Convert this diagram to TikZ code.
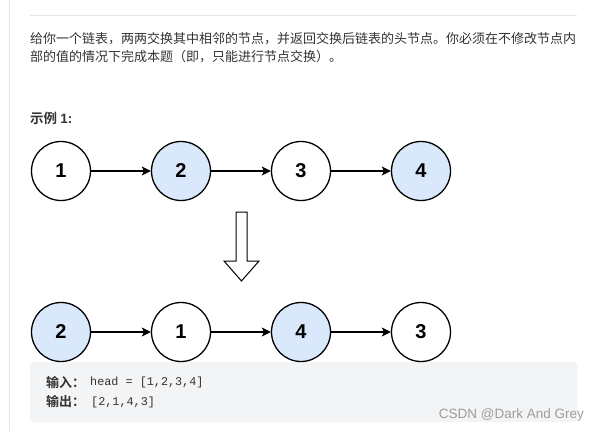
\documentclass[tikz,border=0pt]{standalone}
\usepackage{fontspec}
\setmainfont{Liberation Sans}
\setmonofont{Liberation Mono}
\newfontfamily\cjk{Noto Sans CJK SC}[BoldFont={Noto Sans CJK SC Bold}]
\usetikzlibrary{arrows.meta}
\definecolor{txt}{HTML}{333333}
\definecolor{nodeblue}{HTML}{DAE8FC}
\definecolor{codebg}{HTML}{F3F4F5}
\definecolor{rulegray}{HTML}{E6E6E6}
\definecolor{wmgray}{HTML}{9C9C9C}
\begin{document}
\begin{tikzpicture}[x=1pt,y=-1pt,
  listnode/.style={circle,draw=black,line width=1.3pt,minimum size=59pt,inner sep=0pt,fill=white,
    font=\fontsize{20}{24}\selectfont\bfseries},
  bluenode/.style={listnode,fill=nodeblue},
  link/.style={line width=1.3pt,-{Stealth[length=9pt,width=9pt,inset=2pt]}},
  para/.style={anchor=west,inner sep=0pt,text=txt,font=\cjk\fontsize{13}{16}\selectfont},
  bpara/.style={anchor=west,inner sep=0pt,text=txt,font=\cjk\bfseries\fontsize{13.5}{16}\selectfont},
  code/.style={anchor=west,inner sep=0pt,text=txt,font=\ttfamily\fontsize{11.8}{14}\selectfont}]
\useasboundingbox (0,0) rectangle (599,431);
\fill[white] (0,0) rectangle (599,431);
% page decorations
\draw[rulegray,line width=1pt] (9.5,0) -- (9.5,431);
\draw[rulegray,line width=1.2pt] (30,15.5) -- (577,15.5);
% description
\node[para] (l1) at (30,39) {给你一个链表，两两交换其中相邻的节点，并返回交换后链表的头节点。你必须在不修改节点内};
\node[para] (l2) at (30,57) {部的值的情况下完成本题（即，只能进行节点交换）。};
\node[bpara] (ex) at (30,118) {示例 {\rmfamily\bfseries 1:}};
% code box
\fill[codebg,rounded corners=3pt] (30,362) rectangle (577,422);
% top list
\node[listnode] (a1) at (61,171) {1};
\node[bluenode] (a2) at (181,171) {2};
\node[listnode] (a3) at (301,171) {3};
\node[bluenode] (a4) at (421,171) {4};
\draw[link] (a1) -- (a2);
\draw[link] (a2) -- (a3);
\draw[link] (a3) -- (a4);
% block arrow
\draw[line width=1pt,fill=white,line join=miter]
  (236,212) -- (247,212) -- (247,261) -- (259,261) -- (241.5,281) -- (224,261) -- (236,261) -- cycle;
% bottom list
\node[bluenode] (b1) at (61,332) {2};
\node[listnode] (b2) at (181,332) {1};
\node[bluenode] (b3) at (301,332) {4};
\node[listnode] (b4) at (421,332) {3};
\draw[link] (b1) -- (b2);
\draw[link] (b2) -- (b3);
\draw[link] (b3) -- (b4);
% code text
\node[bpara,font=\cjk\bfseries\fontsize{13}{15}\selectfont] (in) at (46,382) {输入：};
\node[code] (inv) at (90,382) {head = [1,2,3,4]};
\node[bpara,font=\cjk\bfseries\fontsize{13}{15}\selectfont] (out) at (46,402) {输出：};
\node[code] (outv) at (91,402) {[2,1,4,3]};
% watermark
\node[anchor=east,inner sep=0pt,text=wmgray,font=\fontsize{13.5}{16}\selectfont] (wm) at (584,415) {CSDN @Dark And Grey};
\end{tikzpicture}
\end{document}
